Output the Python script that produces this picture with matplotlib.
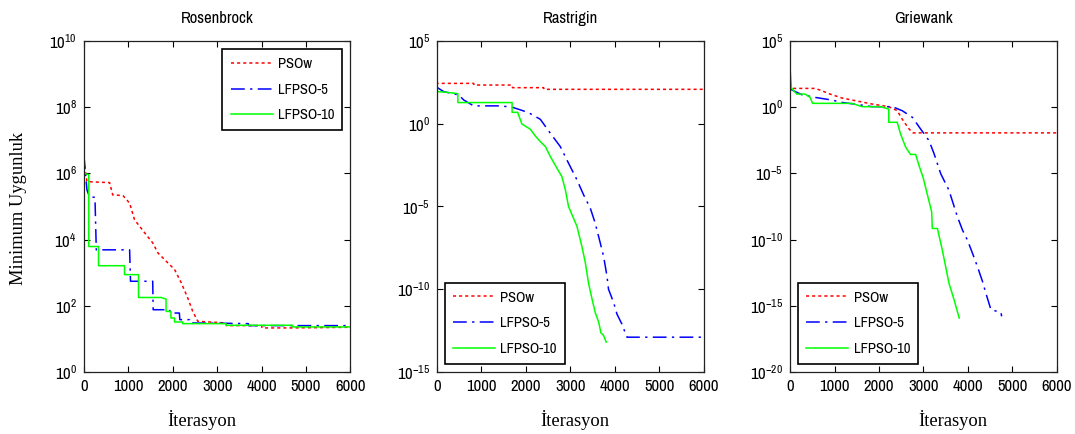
import numpy as np
import matplotlib
matplotlib.use("Agg")
import matplotlib.pyplot as plt
from matplotlib.ticker import FixedLocator, NullLocator

plt.rcParams['font.family'] = ['Archivo Narrow', 'Liberation Sans', 'DejaVu Sans']
plt.rcParams['mathtext.fontset'] = 'custom'
plt.rcParams['mathtext.rm'] = 'Archivo Narrow'
plt.rcParams['mathtext.it'] = 'Archivo Narrow'

# --- Rosenbrock (log10 of minimum fitness) ---
ros_psow_x = [0, 70, 580, 650, 880, 1030, 1140, 1400, 1550, 1665, 1850, 2040, 2190, 2340, 2450, 2565, 3200, 3210, 4000, 4010, 4700, 6000]
ros_psow_y = [6.4, 5.75, 5.72, 5.35, 5.33, 5.1, 4.6, 4.15, 3.9, 3.6, 3.35, 3.1, 2.7, 2.23, 1.83, 1.53, 1.48, 1.4, 1.4, 1.33, 1.33, 1.35]
ros_lf5_x = [0, 70, 130, 250, 280, 1030, 1050, 1550, 1560, 1930, 1940, 2150, 2160, 2380, 2390, 3200, 3700, 3710, 6000]
ros_lf5_y = [6.56, 5.5, 5.28, 5.28, 3.69, 3.69, 2.74, 2.74, 1.88, 1.88, 1.78, 1.78, 1.58, 1.58, 1.48, 1.47, 1.46, 1.4, 1.4]
ros_lf10_x = [0, 10, 110, 110, 330, 330, 915, 915, 1230, 1230, 1740, 1850, 1850, 1960, 1960, 2040, 2040, 2225, 2225, 3200, 3200, 4700, 4700, 6000]
ros_lf10_y = [8.42, 6.0, 5.96, 3.79, 3.79, 3.21, 3.21, 2.94, 2.94, 2.25, 2.25, 2.2, 1.83, 1.83, 1.63, 1.63, 1.51, 1.51, 1.46, 1.46, 1.41, 1.41, 1.36, 1.36]

# --- Rastrigin ---
ras_psow_x = [0, 10, 825, 835, 1690, 1700, 2400, 2410, 6000]
ras_psow_y = [2.55, 2.44, 2.44, 2.34, 2.34, 2.18, 2.18, 2.08, 2.08]
ras_lf5_x = [0, 150, 490, 600, 825, 1425, 1690, 1875, 2060, 2325, 2550, 2775, 2960, 3150, 3300, 3450, 3560, 3675, 3750, 3825, 3860, 3975, 4050, 4160, 4275, 6000]
ras_lf5_y = [2.2, 1.94, 1.74, 1.44, 1.08, 1.08, 1.0, 0.84, 0.67, 0.27, -0.57, -1.38, -2.38, -3.39, -4.3, -5.1, -6.0, -7.21, -8.02, -9.2, -10.0, -10.8, -11.5, -12.1, -12.9, -12.9]
ras_lf10_x = [0, 10, 225, 470, 470, 1690, 1690, 1815, 1910, 1980, 2100, 2210, 2325, 2440, 2550, 2700, 2810, 2890, 2960, 3150, 3260, 3340, 3410, 3490, 3560, 3640, 3690, 3740, 3810]
ras_lf10_y = [2.75, 1.94, 1.9, 1.82, 1.28, 1.28, 0.69, 0.69, -0.01, -0.13, -0.33, -0.73, -1.08, -1.38, -1.98, -2.69, -3.19, -4.0, -5.0, -6.2, -7.4, -8.42, -9.63, -10.6, -11.4, -12.0, -12.65, -12.75, -13.2]

# --- Griewank ---
gri_psow_x = [0, 30, 565, 715, 900, 1170, 1470, 1845, 2220, 2410, 2520, 2675, 2765, 6000]
gri_psow_y = [1.74, 1.42, 1.42, 1.24, 0.99, 0.69, 0.49, 0.24, 0.04, -0.26, -0.89, -1.64, -1.94, -1.94]
gri_lf5_x = [0, 265, 565, 940, 1170, 1545, 1845, 2300, 2520, 2750, 2935, 3125, 3240, 3390, 3575, 3670, 3765, 3880, 3990, 4105, 4215, 4330, 4405, 4520, 4745, 4760]
gri_lf5_y = [1.37, 0.94, 0.74, 0.54, 0.36, 0.19, 0.04, 0.04, -0.26, -0.76, -1.64, -2.52, -3.52, -5.03, -6.28, -7.28, -8.28, -9.29, -10.04, -11.04, -12.04, -13.17, -14.05, -15.3, -15.5, -15.8]
gri_lf10_x = [0, 30, 150, 340, 450, 505, 1390, 1620, 2030, 2220, 2220, 2410, 2485, 2600, 2710, 2825, 2900, 2990, 3065, 3185, 3200, 3315, 3425, 3500, 3575, 3690, 3805]
gri_lf10_y = [2.87, 1.44, 0.99, 0.99, 0.74, 0.29, 0.29, 0.04, 0.04, -0.14, -1.14, -1.14, -2.02, -3.02, -3.57, -3.57, -4.4, -5.28, -6.28, -7.9, -9.16, -9.16, -10.79, -12.04, -13.3, -14.55, -15.93]

titles = ['Rosenbrock', 'Rastrigin', 'Griewank']
labels = ['PSOw', 'LFPSO-5', 'LFPSO-10']
panels = [
    [(ros_psow_x, ros_psow_y), (ros_lf5_x, ros_lf5_y), (ros_lf10_x, ros_lf10_y)],
    [(ras_psow_x, ras_psow_y), (ras_lf5_x, ras_lf5_y), (ras_lf10_x, ras_lf10_y)],
    [(gri_psow_x, gri_psow_y), (gri_lf5_x, gri_lf5_y), (gri_lf10_x, gri_lf10_y)],
]
ylims = [(0, 10), (-15, 5), (-20, 5)]
ytick_exps = [[0, 2, 4, 6, 8, 10], [-15, -10, -5, 0, 5], [-20, -15, -10, -5, 0, 5]]
legend_locs = ['upper right', 'lower left', 'lower left']

colors = ['#ff0000', '#0000ff', '#00ff00']
styles = [(0, (2, 2)), (0, (9, 3.5, 1.5, 3.5)), '-']

fig = plt.figure(figsize=(10.75, 4.34), dpi=100)
lefts = [0.078, 0.4065, 0.735]
for i in range(3):
    ax = fig.add_axes([lefts[i], 0.143, 0.248, 0.7625])
    for (xs, ys), c, ls, lab in zip(panels[i], colors, styles, labels):
        ax.plot(xs, np.power(10.0, ys), color=c, linestyle=ls, linewidth=1.1, label=lab)
    ax.set_yscale('log')
    ax.set_xlim(0, 6000)
    ax.set_ylim(10.0 ** ylims[i][0], 10.0 ** ylims[i][1])
    ax.set_xticks([0, 1000, 2000, 3000, 4000, 5000, 6000])
    ax.yaxis.set_major_locator(FixedLocator([10.0 ** e for e in ytick_exps[i]]))
    ax.yaxis.set_minor_locator(NullLocator())
    ax.set_yticklabels([r'$\mathregular{10^{%d}}$' % e for e in ytick_exps[i]])
    ax.tick_params(direction='in', top=True, right=True, length=4, width=0.8, labelsize=12, pad=5)
    for s in ax.spines.values():
        s.set_linewidth(0.9)
        s.set_color('#222222')
    ax.set_title(titles[i], fontsize=12, pad=13)
    leg = ax.legend(loc=legend_locs[i], fontsize=10.5, handlelength=2.9, fancybox=False,
                    framealpha=1, edgecolor='black', borderpad=0.55, labelspacing=0.8,
                    borderaxespad=0.55, handletextpad=0.35)
    leg.get_frame().set_linewidth(1.2)

serif = ['Liberation Serif', 'DejaVu Serif']
fig.text(0.017, 0.52, 'Minimum Uygunluk', rotation=90, ha='center', va='center', fontsize=13.3, family=serif)
for xc in [0.188, 0.535, 0.886]:
    fig.text(xc, 0.032, 'İterasyon', ha='center', va='center', fontsize=13.3, family=serif)

fig.savefig('out.png', dpi=100)
